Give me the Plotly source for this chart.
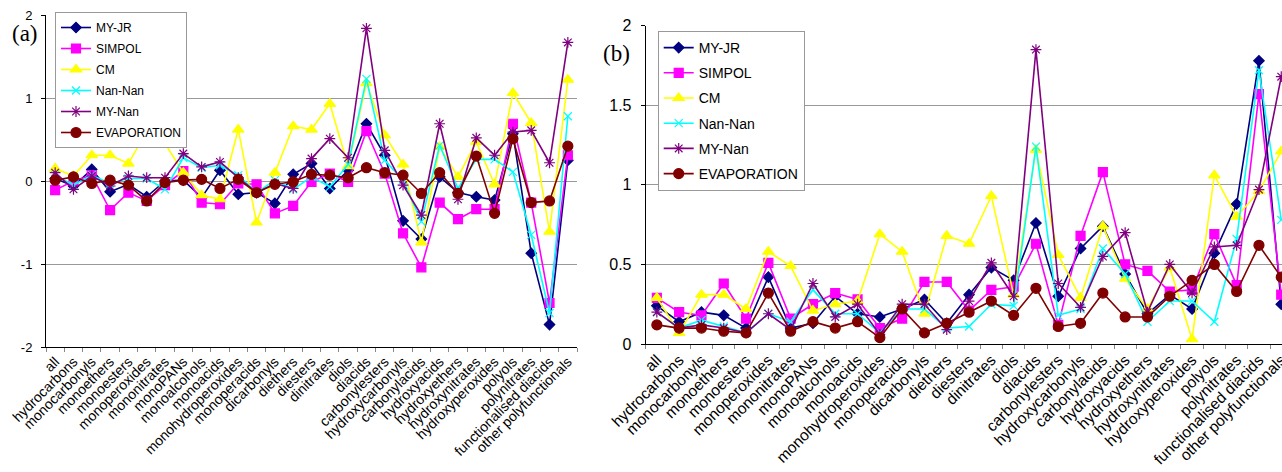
import plotly.graph_objects as go

categories = ["all", "hydrocarbons", "monocarbonyls", "monoethers", "monoesters",
              "monoperoxides", "mononitrates", "monoPANs", "monoalcohols", "monoacids",
              "monohydroperoxides", "monoperacids", "dicarbonyls", "diethers", "diesters",
              "dinitrates", "diols", "diacids", "carbonylesters", "hydroxycarbonyls",
              "carbonylacids", "hydroxyacids", "hydroxyethers", "hydroxynitrates",
              "hydroxyperoxides", "polyols", "polynitrates", "functionalised diacids",
              "other polyfunctionals"]

series_names = ["MY-JR", "SIMPOL", "CM", "Nan-Nan", "MY-Nan", "EVAPORATION"]

# Panel (a)
a_myjr = [0.03, -0.06, 0.14, -0.13, -0.04, -0.19, 0.0, 0.01, -0.2, 0.13, -0.16, -0.14, -0.27, 0.08, 0.21,
          -0.09, 0.13, 0.69, 0.31, -0.48, -0.7, 0.05, -0.14, -0.19, -0.23, 0.57, -0.87, -1.73, 0.25]
a_simpol = [-0.11, 0.0, 0.07, -0.35, -0.14, -0.24, -0.05, 0.12, -0.26, -0.28, -0.03, -0.04, -0.39, -0.3, -0.01,
            0.09, -0.01, 0.6, 0.09, -0.63, -1.04, -0.26, -0.46, -0.34, -0.34, 0.69, -0.26, -1.47, 0.31]
a_cm = [0.15, 0.06, 0.31, 0.31, 0.21, 0.6, 0.45, 0.1, -0.17, -0.22, 0.62, -0.5, 0.1, 0.66, 0.62,
        0.93, 0.18, 1.18, 0.55, 0.2, -0.74, 0.41, 0.05, 0.47, -0.04, 1.06, 0.7, -0.61, 1.22]
a_nannan = [0.07, -0.05, 0.07, -0.03, 0.03, 0.03, -0.1, 0.28, 0.16, 0.19, 0.07, -0.14, 0.01, -0.1, 0.05,
            -0.07, 0.2, 1.23, 0.25, 0.01, -0.49, 0.43, -0.09, 0.26, 0.26, 0.11, -0.65, -1.59, 0.78]
a_mynan = [0.1, -0.1, 0.06, -0.06, 0.06, 0.04, 0.04, 0.33, 0.17, 0.23, 0.04, -0.14, -0.03, -0.09, 0.27,
           0.51, 0.28, 1.84, 0.37, -0.05, -0.41, 0.69, -0.22, 0.52, 0.31, 0.59, 0.61, 0.22, 1.67]
a_evap = [0.01, 0.05, -0.03, 0.01, -0.05, -0.24, -0.02, 0.01, 0.02, -0.09, 0.02, -0.14, -0.04, -0.01, 0.08,
          0.07, 0.04, 0.16, 0.1, 0.07, -0.15, 0.1, -0.15, 0.3, -0.39, 0.51, -0.26, -0.24, 0.42]

# Panel (b)
b_myjr = [0.24, 0.14, 0.2, 0.18, 0.1, 0.42, 0.1, 0.13, 0.3, 0.19, 0.17, 0.22, 0.28, 0.13, 0.31,
          0.48, 0.4, 0.76, 0.3, 0.6, 0.74, 0.44, 0.19, 0.31, 0.22, 0.57, 0.88, 1.78, 0.25]
b_simpol = [0.29, 0.2, 0.18, 0.38, 0.16, 0.51, 0.16, 0.25, 0.32, 0.28, 0.1, 0.16, 0.39, 0.39, 0.21,
            0.34, 0.36, 0.63, 0.12, 0.68, 1.08, 0.5, 0.46, 0.33, 0.34, 0.69, 0.37, 1.57, 0.31]
b_cm = [0.29, 0.07, 0.31, 0.31, 0.22, 0.58, 0.49, 0.21, 0.25, 0.27, 0.69, 0.58, 0.19, 0.68, 0.63,
        0.93, 0.31, 1.22, 0.56, 0.29, 0.74, 0.41, 0.22, 0.48, 0.03, 1.06, 0.8, 0.96, 1.21]
b_nannan = [0.2, 0.1, 0.15, 0.11, 0.07, 0.19, 0.14, 0.34, 0.19, 0.19, 0.07, 0.22, 0.22, 0.1, 0.11,
            0.25, 0.24, 1.24, 0.18, 0.22, 0.6, 0.44, 0.14, 0.27, 0.27, 0.14, 0.66, 1.72, 0.78]
b_mynan = [0.2, 0.1, 0.12, 0.1, 0.07, 0.19, 0.09, 0.38, 0.17, 0.25, 0.06, 0.25, 0.25, 0.09, 0.27,
           0.51, 0.3, 1.85, 0.38, 0.23, 0.55, 0.7, 0.2, 0.5, 0.32, 0.61, 0.62, 0.97, 1.68]
b_evap = [0.12, 0.1, 0.1, 0.08, 0.07, 0.32, 0.08, 0.14, 0.1, 0.14, 0.04, 0.22, 0.07, 0.13, 0.2,
          0.27, 0.18, 0.35, 0.11, 0.13, 0.32, 0.17, 0.17, 0.3, 0.4, 0.5, 0.33, 0.62, 0.42]

a_tickvals = [-2, -1, 0, 1, 2]
a_ticktext = ["-2", "-1", "0", "1", "2"]
b_tickvals = [0, 0.5, 1, 1.5, 2]
b_ticktext = ["0", "0.5", "1", "1.5", "2"]

styles = [
    dict(color="#000080", symbol="diamond", size=8, lw=1.6),
    dict(color="#FF00FF", symbol="square", size=9, lw=1.6),
    dict(color="#FFFF00", symbol="triangle-up", size=10, lw=1.6),
    dict(color="#00FFFF", symbol="x-thin-open", size=8, lw=1.6),
    dict(color="#800080", symbol="asterisk-open", size=9, lw=1.6),
    dict(color="#800000", symbol="circle", size=10, lw=1.6),
]

FONT = "Liberation Sans, Arial, sans-serif"
SERIF = "Liberation Serif, Times New Roman, serif"
W, H = 1282, 472

fig = go.Figure()

panels = [
    ([a_myjr, a_simpol, a_cm, a_nannan, a_mynan, a_evap], "x", "y", "legend"),
    ([b_myjr, b_simpol, b_cm, b_nannan, b_mynan, b_evap], "x2", "y2", "legend2"),
]
for pi, (data, xa, ya, leg) in enumerate(panels):
    for name, vals, st in zip(series_names, data, styles):
        fig.add_trace(go.Scatter(
            x=categories, y=vals, name=name, mode="lines+markers",
            xaxis=xa, yaxis=ya, legend=leg, legendgroup=f"{pi}-{name}",
            line=dict(color=st["color"], width=st["lw"]),
            marker=dict(color=st["color"], symbol=st["symbol"], size=st["size"],
                        line=dict(color=st["color"], width=1.2)),
            cliponaxis=False,
        ))

# pixel geometry -> paper fractions
ax_l, ax_r, ay_t, ay_b = 46, 577, 15, 347
bx_l, bx_r, by_t, by_b = 645.7, 1282, 25.7, 344
b_cat_w = 22.3


def xaxis_style(size):
    return dict(type="category", tickangle=-45, tickson="boundaries", ticks="outside",
                ticklen=4, tickcolor="#888888", showline=True, linecolor="black", linewidth=1,
                showgrid=False, tickfont=dict(family=FONT, size=size, color="black"),
                automargin=False, categoryorder="array", categoryarray=categories)


def yaxis_style(size):
    return dict(ticks="outside", ticklen=4, tickcolor="black", showline=True, linecolor="black",
                linewidth=1, showgrid=True, gridcolor="#999999", gridwidth=1, zeroline=False,
                tickfont=dict(family=FONT, size=size, color="black"), automargin=False,
                tickmode="array", ticklabelstandoff=6)


fig.update_layout(
    width=W, height=H, margin=dict(l=0, r=0, t=0, b=0),
    paper_bgcolor="white", plot_bgcolor="white",
    font=dict(family=FONT, size=13, color="black"),
    xaxis=dict(domain=[ax_l / W, ax_r / W], anchor="y", range=[-0.5, 28.5], **xaxis_style(14)),
    yaxis=dict(domain=[1 - ay_b / H, 1 - ay_t / H], anchor="x", range=[-2, 2],
               tickvals=a_tickvals, ticktext=a_ticktext, **yaxis_style(13)),
    xaxis2=dict(domain=[bx_l / W, bx_r / W], anchor="y2",
                range=[-0.5, -0.5 + (bx_r - bx_l) / b_cat_w], **xaxis_style(15.5)),
    yaxis2=dict(domain=[1 - by_b / H, 1 - by_t / H], anchor="x2", range=[0, 2],
                tickvals=b_tickvals, ticktext=b_ticktext, **yaxis_style(16)),
    legend=dict(x=55 / W, y=1 - 80 / H, xanchor="left", yanchor="middle",
                bgcolor="white", bordercolor="#999999", borderwidth=1,
                font=dict(family=FONT, size=12, color="black"),
                itemwidth=30, traceorder="grouped", tracegroupgap=2),
    legend2=dict(x=657.7 / W, y=1 - 111 / H, xanchor="left", yanchor="middle",
                 bgcolor="white", bordercolor="#999999", borderwidth=1,
                 font=dict(family=FONT, size=14, color="black"),
                 itemwidth=30, traceorder="grouped", tracegroupgap=4),
    annotations=[
        dict(text="(a)", x=10 / W, y=1 - 33 / H, xref="paper", yref="paper",
             xanchor="left", yanchor="middle", showarrow=False,
             font=dict(family=SERIF, size=23, color="black")),
        dict(text="(b)", x=601 / W, y=1 - 53 / H, xref="paper", yref="paper",
             xanchor="left", yanchor="middle", showarrow=False,
             font=dict(family=SERIF, size=23, color="black")),
    ],
)

fig.write_html("out.html", config={"displayModeBar": False},
               post_script="document.body.style.margin='0px';document.body.style.overflow='hidden';")
